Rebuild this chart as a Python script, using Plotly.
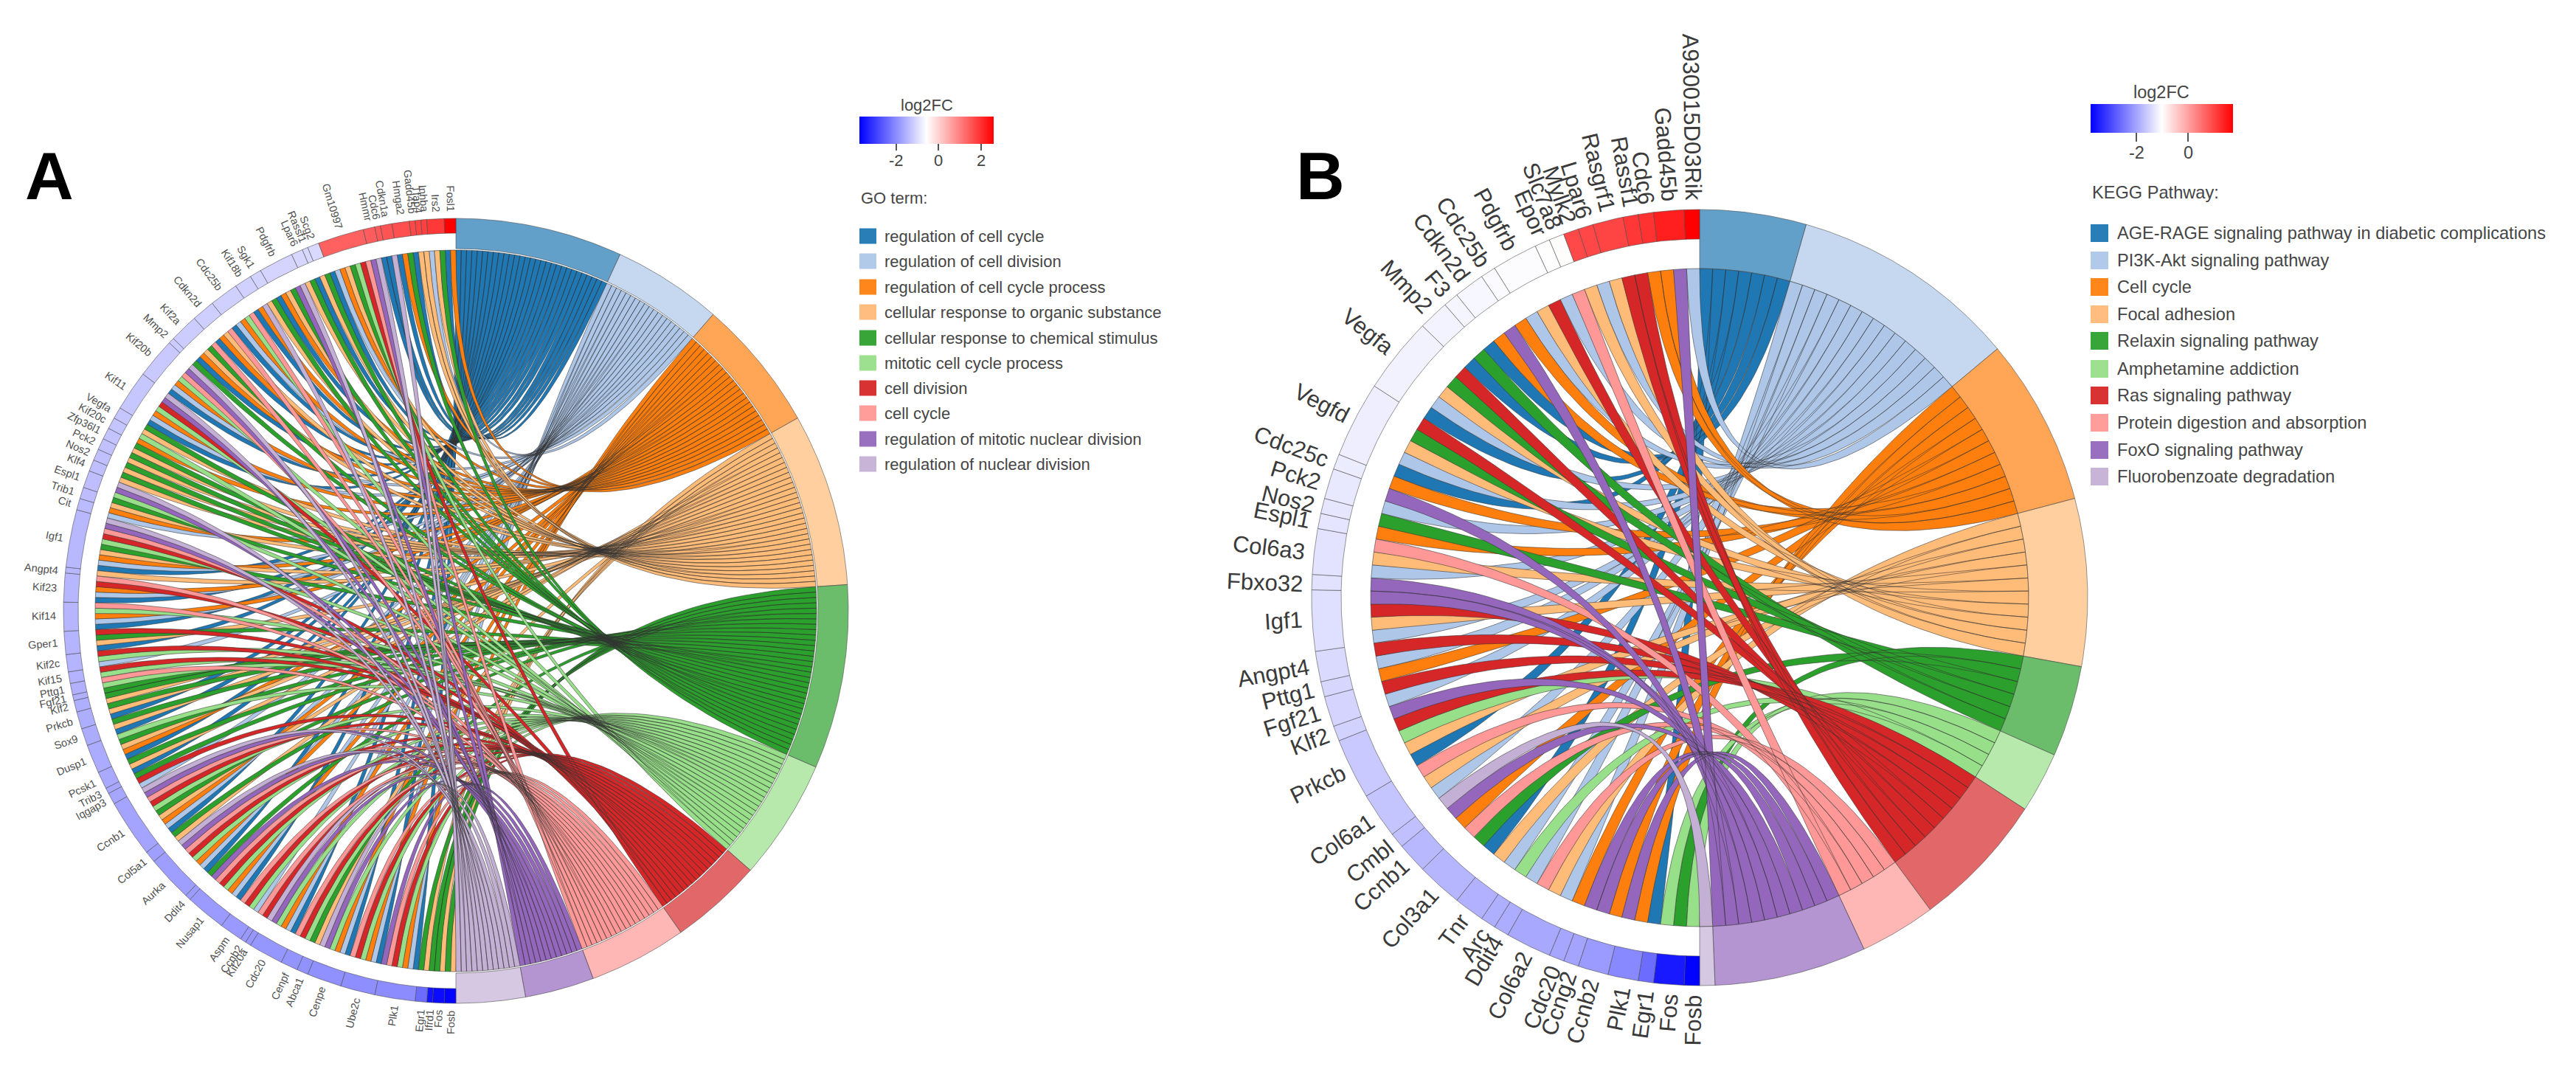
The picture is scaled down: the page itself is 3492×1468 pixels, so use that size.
import numpy as np
import plotly.graph_objects as go

TERM_COLORS = ["#1f77b4", "#aec7e8", "#ff7f0e", "#ffbb78", "#2ca02c",
               "#98df8a", "#d62728", "#ff9896", "#9467bd", "#c5b0d5"]

# ---------- Panel A: GO terms ----------
GO_TERMS = ["regulation of cell cycle", "regulation of cell division",
            "regulation of cell cycle process", "cellular response to organic substance",
            "cellular response to chemical stimulus", "mitotic cell cycle process",
            "cell division", "cell cycle", "regulation of mitotic nuclear division",
            "regulation of nuclear division"]
# genes run clockwise from the bottom of the circle; each entry lists term indices
GO_GENES = ["Fosb", "Fos", "Ifrd1", "Egr1", "Plk1", "Ube2c", "Cenpe", "Abca1", "Cenpf", "Cdc20",
            "Kif20a", "Ccnb2", "Aspm", "Nusap1", "Ddit4", "Aurka", "Col5a1", "Ccnb1", "Iqgap3", "Trib3",
            "Pcsk1", "Dusp1", "Sox9", "Prkcb", "Klf2", "Fgf21", "Pttg1", "Kif15", "Kif2c", "Gper1",
            "Kif14", "Kif23", "Angpt4", "Igf1", "Cit", "Trib1", "Espl1", "Klf4", "Nos2", "Pck2",
            "Zfp36l1", "Kif20c", "Vegfa", "Kif11", "Kif20b", "Mmp2", "Kif2a", "Cdkn2d", "Cdc25b", "Kif18b",
            "Sgk1", "Pdgfrb", "Lpar6", "Rassf1", "Scg2", "Gm10997", "Hmmr", "Cdc6", "Cdkn1a", "Hmga2",
            "Gadd45b", "Tfap4", "Inhba", "Irs2", "Fosl1"]
GO_LOG2FC = [-3.7, -3.6, -3.5, -2.4, -2.0, -1.98, -1.95, -1.92, -1.9, -1.88,
             -1.86, -1.85, -1.84, -1.82, -1.8, -1.78, -1.76, -1.7, -1.68, -1.66,
             -1.64, -1.62, -1.6, -1.58, -1.56, -1.55, -1.54, -1.52, -1.5, -1.49,
             -1.48, -1.47, -1.46, -1.45, -1.42, -1.4, -1.38, -1.36, -1.35, -1.34,
             -1.32, -1.3, -1.28, -1.26, -1.24, -1.22, -1.2, -1.18, -1.16, -1.14,
             -1.12, -1.1, -1.08, -1.06, -1.04, 1.4, 1.45, 1.5, 1.55, 1.6,
             1.7, 1.75, 1.8, 1.9, 2.6]
GO_MEMBERS = [[3, 4], [3, 4], [4], [3, 4], [0, 1, 2, 5, 6, 7, 8], [0, 1, 2, 5, 6, 7],
              [0, 1, 2, 5, 8, 9], [3, 4], [5, 6, 7], [0, 1, 2, 5, 8, 9], [6], [7], [1, 5, 6, 7],
              [0, 1, 2, 5, 6, 7, 8], [4], [0, 1, 2, 5, 6, 7, 8, 9], [3, 4],
              [0, 1, 2, 3, 4, 5, 6, 7, 8, 9], [1, 6], [4], [0, 3, 4], [0, 2, 3, 4, 5], [0, 3, 4],
              [0, 3, 4], [3, 4], [4], [5, 7], [5, 6], [1, 5, 6], [0, 3, 4, 6], [0, 1, 2, 5, 7],
              [0, 1, 2, 6, 7], [3], [0, 1, 2, 3, 4, 5, 6, 7, 8, 9], [1, 2], [3, 4], [5, 8, 9],
              [3, 4], [3, 4], [3, 4], [3, 4], [2, 5], [3, 4], [0, 1, 2, 5, 6, 8, 9],
              [0, 1, 2, 5, 7, 8, 9], [4], [0, 2, 3, 4, 7], [0, 2, 3, 7], [0, 1, 2, 5, 7], [0, 2, 9],
              [3, 4], [0, 2, 3, 4, 8, 9], [3, 4], [0], [3, 4], [0, 1, 2, 3, 4, 5, 6, 7], [8, 9],
              [0], [0, 9], [0, 2, 4], [0], [3], [3], [1, 3, 4], [0, 2]]
GO_TICKS = [-2, 0, 2]
GO_RANGE = [-3.74, 2.6]

# ---------- Panel B: KEGG pathways ----------
KEGG_TERMS = ["AGE-RAGE signaling pathway in diabetic complications", "PI3K-Akt signaling pathway",
              "Cell cycle", "Focal adhesion", "Relaxin signaling pathway", "Amphetamine addiction",
              "Ras signaling pathway", "Protein digestion and absorption", "FoxO signaling pathway",
              "Fluorobenzoate degradation"]
KEGG_GENES = ["Fosb", "Fos", "Egr1", "Plk1", "Ccnb2", "Ccng2", "Cdc20", "Col6a2", "Ddit4", "Arc", "Tnr",
              "Col3a1", "Ccnb1", "Cmbl", "Col6a1", "Prkcb", "Klf2", "Fgf21", "Pttg1", "Angpt4", "Igf1",
              "Fbxo32", "Col6a3", "Espl1", "Nos2", "Pck2", "Cdc25c", "Vegfd", "Vegfa", "Mmp2", "F3",
              "Cdkn2d", "Cdc25b", "Pdgfrb", "Epor", "Slc7a8", "Mylk2", "Lpar6", "Rasgrf1", "Rassf1",
              "Cdc6", "Gadd45b", "A930015D03Rik"]
KEGG_LOG2FC = [-3.75, -3.5, -2.6, -2.3, -2.1, -2.0, -1.98, -1.95, -1.9, -1.88, -1.86,
               -1.8, -1.78, -1.7, -1.65, -1.6, -1.5, -1.48, -1.46, -1.42, -1.36,
               -1.33, -1.32, -1.3, -1.28, -1.26, -1.22, -1.2, -1.16, -1.14, -1.12,
               -1.1, -1.06, -1.05, -1.03, -0.98, 0.95, 0.97, 1.0, 1.15, 1.2, 1.4, 1.74]
KEGG_MEMBERS = [[5], [4, 5], [0], [2, 8], [2, 8], [8], [2], [1, 3, 7], [1], [5], [1, 3],
                [0, 4, 7], [2, 8], [9], [1, 3, 7], [0, 3, 5, 6], [8], [1, 6], [2], [1, 6], [1, 3, 6, 8],
                [8], [1, 3, 7], [2], [4], [1, 8], [2], [0, 1, 3, 4, 6], [0, 1, 3, 4, 6], [0, 4], [0],
                [2, 8], [2], [1, 3, 6], [1], [7], [3], [1], [3, 6], [6], [2], [2, 8], [1]]
KEGG_TICKS = [-2, 0]
KEGG_RANGE = [-3.77, 1.74]

FONT = "Liberation Sans"
RIBBON_LINE = "rgba(50,50,50,0.55)"
RING_LINE = "rgba(70,70,70,0.55)"
TEXT = "#454545"


def rgba(hex_color, a):
    r, g, b = (int(hex_color[i:i + 2], 16) for i in (1, 3, 5))
    return f"rgba({r},{g},{b},{a})"


def value_color(v, vmin, vmax):
    mid = (vmin + vmax) / 2
    if v < mid:
        f = (v - vmin) / (mid - vmin)
        c = int(round(255 * max(f, 0)))
        return f"rgb({c},{c},255)"
    f = (v - mid) / (vmax - mid)
    c = int(round(255 * (1 - min(f, 1))))
    return f"rgb(255,{c},{c})"


def polar(cx, cy, r, theta):
    a = np.radians(theta)
    return cx + r * np.sin(a), cy - r * np.cos(a)


def sector(cx, cy, r0, r1, t0, t1):
    t = np.linspace(t0, t1, max(int(abs(t1 - t0) * 2) + 2, 3))
    x0, y0 = polar(cx, cy, r1, t)
    x1, y1 = polar(cx, cy, r0, t[::-1])
    return list(x0) + list(x1) + [x0[0]], list(y0) + list(y1) + [y0[0]]


T = np.linspace(0, 1, 48)


def bezier(cx, cy, rg, th_g, rt, th_t):
    gx, gy = polar(0, 0, rg, th_g)
    tx, ty = polar(0, 0, rt, th_t)
    return cx + (1 - T) ** 2 * gx + T ** 2 * tx, cy + (1 - T) ** 2 * gy + T ** 2 * ty


def add_chord(fig, cx, cy, R, r_term, r_gene, r_rib, terms, genes, vals, members, vrange,
              font_size, gap, text_color):
    total = sum(len(m) for m in members)
    unit = 180.0 / total
    counts = [sum(i in m for m in members) for i in range(len(terms))]
    starts = np.concatenate([[0], np.cumsum(counts)])
    # ribbons, one trace per term, later terms on top
    for ti, name in enumerate(terms):
        xs, ys = [], []
        j = 0
        k = 0
        for m in members:
            for tt in m:
                if tt == ti:
                    g0 = 180 + k * unit
                    g1 = g0 + unit
                    t0 = (starts[ti] + j) * unit
                    t1 = t0 + unit
                    ax, ay = bezier(cx, cy, r_rib, g0, r_rib, t1)
                    bx, by = bezier(cx, cy, r_rib, g1, r_rib, t0)
                    xs += list(ax) + list(bx[::-1]) + [ax[0], None]
                    ys += list(ay) + list(by[::-1]) + [ay[0], None]
                    j += 1
                k += 1
        fig.add_trace(go.Scatter(x=xs, y=ys, mode="lines", fill="toself", name=name,
                                 fillcolor=TERM_COLORS[ti], line=dict(color=RIBBON_LINE, width=1),
                                 hoverinfo="skip", showlegend=False))
    # outer term ring
    for ti, name in enumerate(terms):
        x, y = sector(cx, cy, r_term, R, starts[ti] * unit, starts[ti + 1] * unit)
        fig.add_trace(go.Scatter(x=x, y=y, mode="lines", fill="toself", name=name,
                                 fillcolor=rgba(TERM_COLORS[ti], 0.7), line=dict(color=RING_LINE, width=1),
                                 hoverinfo="skip", showlegend=False))
    # gene ring and labels
    k = 0
    for gene, v, m in zip(genes, vals, members):
        t0 = 180 + k * unit
        t1 = t0 + len(m) * unit
        x, y = sector(cx, cy, r_gene, R, t0, t1)
        fig.add_trace(go.Scatter(x=x, y=y, mode="lines", fill="toself", name=gene,
                                 fillcolor=value_color(v, *vrange), line=dict(color=RING_LINE, width=1),
                                 hoverinfo="skip", showlegend=False))
        mid = (t0 + t1) / 2
        alpha = mid - 270
        px, py = polar(cx, cy, R + gap, mid)
        h = font_size * 1.3
        a = np.radians(alpha)
        fig.add_annotation(x=px + h / 2 * abs(np.sin(a)),
                           y=py + (h / 2 * np.cos(a) if alpha > 0 else -h / 2 * np.cos(a)),
                           text=gene, showarrow=False, textangle=alpha,
                           xanchor="right", yanchor="bottom" if alpha > 0 else "top",
                           borderpad=0, borderwidth=0,
                           font=dict(family=FONT, size=font_size, color=text_color))
        k += len(m)


def add_legend(fig, title, title_y, terms, row_y, sq_x, sq_w, sq_h, text_x, size):
    fig.add_annotation(x=sq_x, y=title_y, text=title, showarrow=False, xanchor="left", yanchor="middle",
                       font=dict(family=FONT, size=size, color=TEXT))
    for ti, (name, yy) in enumerate(zip(terms, row_y)):
        fig.add_shape(type="rect", xref="x", yref="y", x0=sq_x, x1=sq_x + sq_w,
                      y0=yy - sq_h / 2, y1=yy + sq_h / 2,
                      fillcolor=TERM_COLORS[ti], opacity=0.95, line=dict(width=0))
        fig.add_annotation(x=text_x, y=yy, text=name, showarrow=False, xanchor="left", yanchor="middle",
                           font=dict(family=FONT, size=size, color=TEXT))


def add_colorbar(fig, vrange, ticks, x_left, x_right, y_top, thick, ticklen, title_x, title_y, label_y, size):
    fig.add_trace(go.Scatter(
        x=[x_left, x_right], y=[y_top, y_top], mode="markers", hoverinfo="skip", showlegend=False,
        marker=dict(size=1, opacity=0, color=list(vrange), cmin=vrange[0], cmax=vrange[1],
                    colorscale=[[0, "#0000ff"], [0.5, "#ffffff"], [1, "#ff0000"]],
                    colorbar=dict(orientation="h", x=(x_left + x_right) / 2 / 3492, xanchor="center",
                                  y=1 - y_top / 1468, yanchor="top", yref="paper",
                                  lenmode="pixels", len=x_right - x_left, thicknessmode="pixels",
                                  thickness=thick, xpad=0, ypad=0, outlinewidth=0,
                                  tickvals=list(ticks), showticklabels=False,
                                  ticks="outside", ticklen=ticklen, tickwidth=1.5, tickcolor="#555555"))))
    fig.add_annotation(x=title_x, y=title_y, text="log2FC", showarrow=False, xanchor="center", yanchor="middle",
                       font=dict(family=FONT, size=size, color=TEXT))
    for t in ticks:
        fig.add_annotation(x=x_left + (t - vrange[0]) / (vrange[1] - vrange[0]) * (x_right - x_left),
                           y=label_y, text=str(t), showarrow=False, xanchor="center", yanchor="middle",
                           font=dict(family=FONT, size=size, color=TEXT))


fig = go.Figure()
add_chord(fig, 618, 828, 532, 491, 512, 489, GO_TERMS, GO_GENES, GO_LOG2FC, GO_MEMBERS, GO_RANGE,
          14.5, 10, "#505050")
add_chord(fig, 2304, 810, 526, 446, 486, 446, KEGG_TERMS, KEGG_GENES, KEGG_LOG2FC, KEGG_MEMBERS, KEGG_RANGE,
          31, 13, "#3a3a3a")

add_legend(fig, "GO term:", 268, GO_TERMS, [320, 354, 389, 423, 458, 492, 526, 560, 595, 629],
           1165, 23, 21, 1197, 22)
add_legend(fig, "KEGG Pathway:", 261, KEGG_TERMS, [316, 353, 389, 426, 462, 500, 536, 573, 610, 646],
           2834, 24, 24, 2868, 23.6)
add_colorbar(fig, GO_RANGE, GO_TICKS, 1165, 1347, 158, 37, 9, 1256, 142, 217, 22)
add_colorbar(fig, KEGG_RANGE, KEGG_TICKS, 2834, 3027, 141, 39, 12, 2930, 125, 207, 23.5)

for letter, lx in (("A", 67), ("B", 1790)):
    fig.add_annotation(x=lx, y=238, text=f"<b>{letter}</b>", showarrow=False, xanchor="center", yanchor="middle",
                       font=dict(family=FONT, size=91, color="#000000"))

fig.update_layout(width=3492, height=1468, margin=dict(l=0, r=0, t=0, b=0),
                  paper_bgcolor="white", plot_bgcolor="white", showlegend=False,
                  xaxis=dict(range=[0, 3492], visible=False, fixedrange=True),
                  yaxis=dict(range=[1468, 0], visible=False, fixedrange=True))
fig.write_html("out.html", config={"displayModeBar": False},
               post_script="document.body.style.margin='0';document.body.style.overflow='hidden';")
